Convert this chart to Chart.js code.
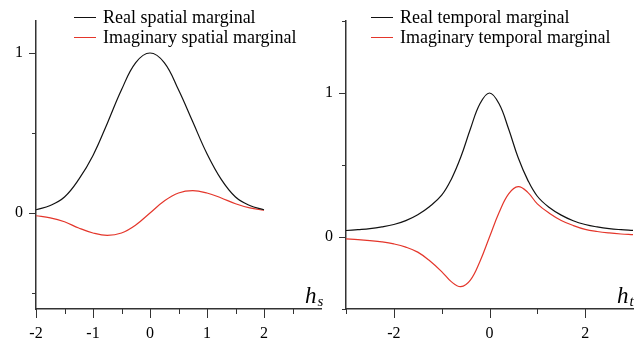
<!DOCTYPE html>
<html>
<head>
<meta charset="utf-8">
<script src="https://cdn.jsdelivr.net/npm/chart.js@4/dist/chart.umd.min.js"></script>
<style>
  html, body { margin: 0; padding: 0; background: #fff; }
  body { width: 641px; height: 339px; position: relative; overflow: hidden; }
  canvas { position: absolute; top: 0; }
  #cs { left: 0; }
  #ct { left: 320px; }
</style>
</head>
<body>
<canvas id="cs" width="330" height="339"></canvas>
<canvas id="ct" width="321" height="339"></canvas>
<script>
// ---- Spatial marginal (left panel) ----
const spatialH    = [-2, -1.75, -1.5, -1.25, -1, -0.75, -0.5, -0.25, 0, 0.25, 0.5, 0.75, 1, 1.25, 1.5, 1.75, 2];
const spatialReal = [0.02, 0.047, 0.10, 0.21, 0.36, 0.56, 0.77, 0.94, 1.0, 0.94, 0.77, 0.57, 0.37, 0.21, 0.10, 0.047, 0.02];
const spatialImag = [-0.017, -0.03, -0.055, -0.094, -0.125, -0.14, -0.125, -0.075, 0, 0.075, 0.125, 0.14, 0.125, 0.094, 0.058, 0.032, 0.017];
const spatialXTicks  = [-2, -1.5, -1, -0.5, 0, 0.5, 1, 1.5, 2, 2.5];
const spatialXLabels = [-2, -1, 0, 1, 2];
const spatialYTicks  = [-0.5, 0, 0.5, 1];
const spatialYLabels = [0, 1];

// ---- Temporal marginal (right panel) ----
const temporalH    = [-3, -2.75, -2.5, -2.25, -2, -1.75, -1.5, -1.25, -1, -0.8, -0.6, -0.4, -0.2, 0, 0.2, 0.4, 0.6, 0.8, 1, 1.25, 1.5, 1.75, 2, 2.25, 2.5, 2.75, 3];
const temporalReal = [0.045, 0.051, 0.058, 0.070, 0.087, 0.114, 0.155, 0.212, 0.29, 0.40, 0.555, 0.75, 0.925, 1.0, 0.925, 0.75, 0.55, 0.395, 0.283, 0.205, 0.152, 0.113, 0.087, 0.070, 0.058, 0.051, 0.046];
const temporalImag = [-0.013, -0.018, -0.025, -0.034, -0.048, -0.07, -0.105, -0.165, -0.24, -0.31, -0.345, -0.30, -0.17, 0, 0.17, 0.30, 0.35, 0.31, 0.23, 0.165, 0.115, 0.08, 0.053, 0.038, 0.028, 0.021, 0.016];
const temporalXTicks  = [-3, -2, -1, 0, 1, 2];
const temporalXLabels = [-2, 0, 2];
const temporalYTicks  = [-0.5, 0, 0.5, 1, 1.5];
const temporalYLabels = [0, 1];

const BLACK = '#111111';
const RED = '#e4362b';
const AXIS = '#333333';
const SERIF = '"Liberation Serif", "Times New Roman", serif';

function pts(xs, ys) { return xs.map((x, i) => ({ x: x, y: ys[i] })); }

const decorPlugin = {
  id: 'decor',
  afterDraw(chart) {
    const o = chart.options.plugins.decor;
    const ctx = chart.ctx;
    const xs = chart.scales.x, ys = chart.scales.y;
    ctx.save();
    // tick marks
    ctx.strokeStyle = AXIS;
    ctx.lineWidth = 1;
    xs.ticks.forEach(t => {
      const len = o.xLabels.includes(t.value) ? 9 : 5;
      const px = Math.round(xs.getPixelForValue(t.value)) + 0.5;
      ctx.beginPath(); ctx.moveTo(px, xs.top); ctx.lineTo(px, xs.top + len); ctx.stroke();
    });
    ys.ticks.forEach(t => {
      const len = o.yLabels.includes(t.value) ? 7 : 4;
      const py = Math.round(ys.getPixelForValue(t.value)) + 0.5;
      ctx.beginPath(); ctx.moveTo(ys.right - len, py); ctx.lineTo(ys.right, py); ctx.stroke();
    });
    // legend
    const lx = o.legendX;
    chart.data.datasets.forEach((ds, i) => {
      const ly = 17 + i * 20;
      ctx.strokeStyle = ds.borderColor;
      ctx.lineWidth = 1;
      ctx.beginPath(); ctx.moveTo(lx, ly + 0.5); ctx.lineTo(lx + 22, ly + 0.5); ctx.stroke();
      ctx.fillStyle = '#000';
      ctx.font = '18px ' + SERIF;
      ctx.textBaseline = 'middle';
      ctx.textAlign = 'left';
      ctx.fillText(ds.label, lx + 29, ly + 1);
    });
    // axis title h_sub
    const ca = chart.chartArea;
    ctx.fillStyle = '#000';
    ctx.textBaseline = 'alphabetic';
    ctx.font = 'italic 23px ' + SERIF;
    const hx = ca.right - o.titleOffset;
    ctx.fillText('h', hx, ca.bottom - 6);
    const hw = ctx.measureText('h').width;
    ctx.font = 'italic 15px ' + SERIF;
    ctx.fillText(o.sub, hx + hw + 1, ca.bottom - 3);
    ctx.restore();
  }
};

function makeChart(id, cfg) {
  const lineOpts = { borderWidth: 1.2, pointRadius: 0, tension: 0.4, fill: false };
  return new Chart(document.getElementById(id), {
    type: 'line',
    data: {
      datasets: [
        Object.assign({ label: cfg.realLabel, data: pts(cfg.h, cfg.real), borderColor: BLACK }, lineOpts),
        Object.assign({ label: cfg.imagLabel, data: pts(cfg.h, cfg.imag), borderColor: RED }, lineOpts)
      ]
    },
    options: {
      responsive: false,
      devicePixelRatio: 1,
      animation: false,
      events: [],
      layout: { padding: { top: 21, right: cfg.padRight, left: 0, bottom: 0 } },
      plugins: {
        legend: { display: false },
        tooltip: { enabled: false },
        decor: { xLabels: cfg.xLabels, yLabels: cfg.yLabels, legendX: cfg.legendX, sub: cfg.sub, titleOffset: cfg.titleOffset }
      },
      scales: {
        x: {
          type: 'linear', min: cfg.xMin, max: cfg.xMax,
          afterFit(s) { s.height = 30; },
          afterBuildTicks(s) { s.ticks = cfg.xTicks.map(v => ({ value: v })); },
          grid: { display: true, drawOnChartArea: false, drawTicks: true, tickLength: 9, tickColor: 'rgba(0,0,0,0)' },
          border: { display: true, color: AXIS, width: 1.5 },
          ticks: {
            autoSkip: false, maxRotation: 0, padding: 6, color: '#000',
            font: { family: SERIF, size: 16 },
            callback: v => cfg.xLabels.includes(v) ? String(v) : ''
          }
        },
        y: {
          type: 'linear', min: cfg.yMin, max: cfg.yMax,
          afterFit(s) { s.width = cfg.yWidth; },
          afterBuildTicks(s) { s.ticks = cfg.yTicks.map(v => ({ value: v })); },
          grid: { display: true, drawOnChartArea: false, drawTicks: true, tickLength: 7, tickColor: 'rgba(0,0,0,0)' },
          border: { display: true, color: AXIS, width: 1.5 },
          ticks: {
            autoSkip: false, padding: 6, color: '#000',
            font: { family: SERIF, size: 16 },
            callback: v => cfg.yLabels.includes(v) ? String(v) : ''
          }
        }
      }
    },
    plugins: [decorPlugin]
  });
}

makeChart('cs', {
  h: spatialH, real: spatialReal, imag: spatialImag,
  realLabel: 'Real spatial marginal', imagLabel: 'Imaginary spatial marginal',
  xMin: -2, xMax: 3, yMin: -0.6, yMax: 1.2,
  xTicks: spatialXTicks, xLabels: spatialXLabels, yTicks: spatialYTicks, yLabels: spatialYLabels,
  yWidth: 36, padRight: 9, legendX: 74, sub: 's', titleOffset: 16
});

makeChart('ct', {
  h: temporalH, real: temporalReal, imag: temporalImag,
  realLabel: 'Real temporal marginal', imagLabel: 'Imaginary temporal marginal',
  xMin: -3, xMax: 3, yMin: -0.5, yMax: 1.5,
  xTicks: temporalXTicks, xLabels: temporalXLabels, yTicks: temporalYTicks, yLabels: temporalYLabels,
  yWidth: 26, padRight: 8, legendX: 51, sub: 't', titleOffset: 16
});
</script>
</body>
</html>
